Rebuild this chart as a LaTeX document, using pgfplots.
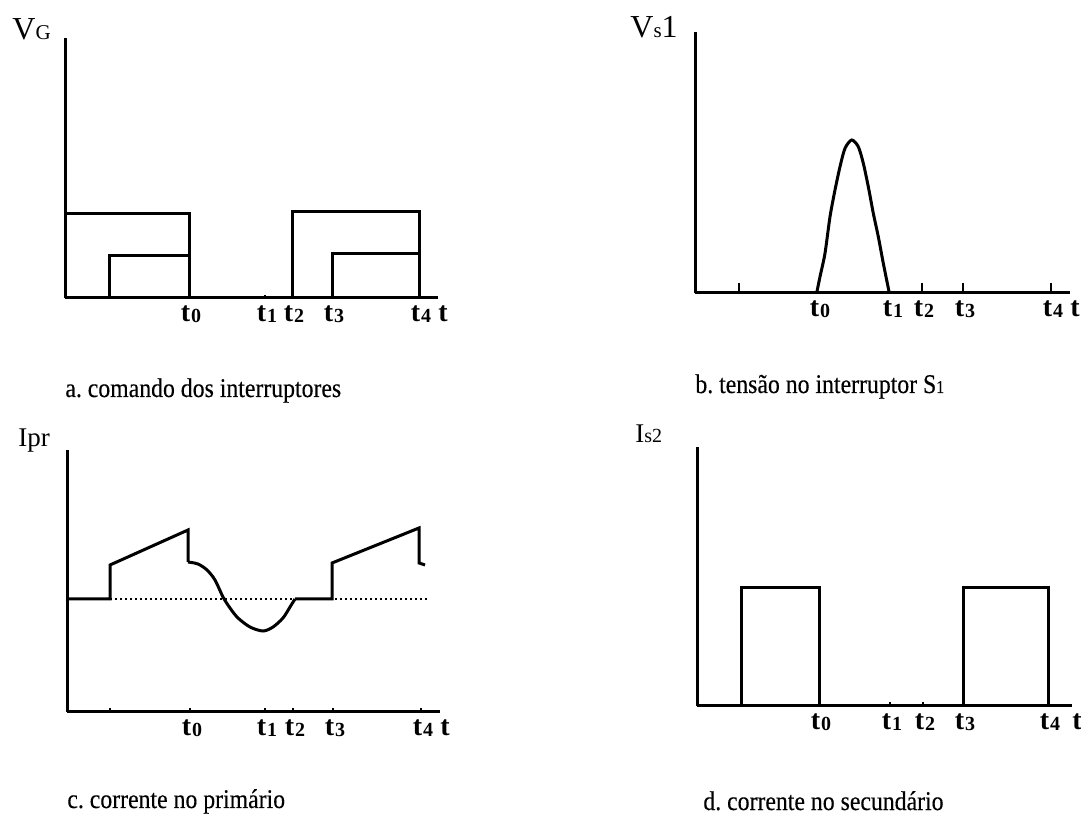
\documentclass[border=0pt]{standalone}
\usepackage{fontspec}
\setmainfont{Liberation Serif}
\newfontfamily\capfam[FakeStretch=0.88,FakeBold=0.3]{Liberation Serif}
\usepackage{pgfplots}
\pgfplotsset{compat=1.18}

% time marks t0 ... t4 under the time axis
\newcommand\tickfont{\fontsize{14}{14}\selectfont\bfseries}
\newcommand\tk[1]{t\kern0.4pt{\fontsize{10}{10}\selectfont\bfseries\raisebox{-0.5pt}{#1}}}
\newcommand\capfont{\capfam\fontsize{13.5}{16}\selectfont\frenchspacing}

\pgfplotsset{
  wave/.style={
    scale only axis,
    anchor=south west,
    axis x line=bottom, axis y line=left,
    axis line style={-, line width=1.5pt, black},
    xmin=0, ymin=0,
    ytick=\empty,
    clip=false,
    tick align=inside,
    tick style={black, line width=1pt},
    xticklabel style={font=\tickfont, anchor=north, inner sep=0pt, yshift=-3.5pt, xshift=1pt},
    xlabel={t},
    x label style={font=\tickfont, at={(rel axis cs:1,0)}, anchor=north west, inner sep=0pt, yshift=-3.5pt, xshift=0pt},
  },
  sig/.style={black, line width=1.5pt, line join=miter},
}

\begin{document}
\begin{tikzpicture}[x=1pt,y=1pt]
\useasboundingbox (0pt,0pt) rectangle (540.5pt,409.5pt);

% a. gate signals
\begin{axis}[wave, at={(32.5pt,260.5pt)}, width=186.5pt, height=130pt, xmax=373, ymax=260,
  xtick={124,200,227,267,354},
  xticklabels={\tk0,\tk1,\tk2,\tk3,\tk4},
  major tick length=1.5pt]
  \addplot[sig] coordinates {(0,84) (124,84) (124,0)};
  \addplot[sig] coordinates {(44,0) (44,42) (124,42) (124,0)};
  \addplot[sig] coordinates {(227,0) (227,86) (354,86) (354,0)};
  \addplot[sig] coordinates {(267,0) (267,44) (354,44) (354,0)};
\end{axis}

% b. voltage across S1
\begin{axis}[wave, at={(347.5pt,263pt)}, width=187.5pt, height=130.5pt, xmax=375, ymax=261,
  xtick={44,227,268,356},
  xticklabels={,\tk2,\tk3,\tk4},
  extra x ticks={123,196},
  extra x tick labels={\tk0,\tk1},
  extra x tick style={major tick length=0pt},
  major tick length=5pt]
  \addplot[sig, smooth, tension=0.45] coordinates {
    (121.7,0) (125,16.3) (130,39.7) (135,76.3) (140,103) (145,126.3)
    (150,144.7) (156.7,153) (163.3,146.3) (168.3,129.7) (173.3,106.3)
    (178.3,79.7) (183.3,56.3) (188.3,29.7) (194.3,0)};
\end{axis}

% c. primary current
\begin{axis}[wave, at={(33.5pt,53.5pt)}, width=186.5pt, height=131pt, xmax=373, ymax=262,
  xtick={43,123,198,226,266,354},
  xticklabels={,\tk0,\tk1,\tk2,\tk3,\tk4},
  major tick length=2pt]
  \addplot[black, line width=1pt, dash pattern=on 1.2pt off 1.3pt] coordinates {(43,113) (361,113)};
  \addplot[sig] coordinates {(0,113) (43,113) (43,147) (121,182) (121,150)};
  \addplot[sig, smooth, tension=0.5] coordinates {
    (121,150) (131,148) (140,142) (148,132) (156,115) (163,104) (171,94)
    (183,85) (196,81) (206,85) (216,94) (223,105) (228,113)};
  \addplot[sig] coordinates {(228,113) (265,113) (265,149) (352,184) (352,149) (358,147)};
\end{axis}

% d. secondary current
\begin{axis}[wave, at={(348.5pt,56.5pt)}, width=187.5pt, height=129.5pt, xmax=375, ymax=259,
  xtick={44,122,193,226,266,351},
  xticklabels={,\tk0,\tk1,\tk2,\tk3,\tk4},
  major tick length=2pt]
  \addplot[sig] coordinates {(44,0) (44,118) (122,118) (122,0)};
  \addplot[sig] coordinates {(266,0) (266,118) (351,118) (351,0)};
\end{axis}

% signal names
\node[anchor=base west, inner sep=0pt] at (6pt,389.5pt) {\fontsize{16}{16}\selectfont V{\fontsize{10.5}{10.5}\selectfont G}};
\node[anchor=base west, inner sep=0pt] at (315pt,390.5pt) {\fontsize{16}{16}\selectfont V{\fontsize{10.5}{10.5}\selectfont s}1};
\node[anchor=base west, inner sep=0pt] at (9pt,186pt) {\fontsize{13.5}{13.5}\selectfont Ipr};
\node[anchor=base west, inner sep=0pt] at (317.5pt,188pt) {\fontsize{13.5}{13.5}\selectfont I{\fontsize{10}{10}\selectfont s2}};

% captions
\node[anchor=base west, inner sep=0pt] at (32.5pt,211pt) {\capfont a. comando dos interruptores};
\node[anchor=base west, inner sep=0pt] at (347.5pt,213pt) {\capfont b. tensão no interruptor S{\fontsize{9}{9}\selectfont 1}};
\node[anchor=base west, inner sep=0pt] at (33.5pt,5.5pt) {\capfont c. corrente no primário};
\node[anchor=base west, inner sep=0pt] at (351.5pt,4.5pt) {\capfont d. corrente no secundário};
\end{tikzpicture}
\end{document}
